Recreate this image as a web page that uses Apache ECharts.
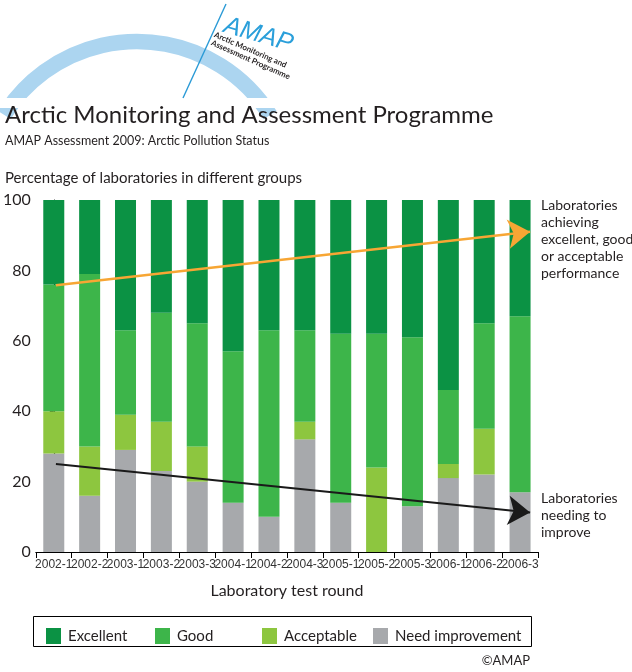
<!DOCTYPE html>
<html>
<head>
<meta charset="utf-8">
<script src="https://cdn.jsdelivr.net/npm/echarts@6/dist/echarts.min.js"></script>
<style>html,body{margin:0;padding:0;background:#fff;}#c{width:632px;height:672px;}</style>
</head>
<body>
<div id="c"></div>
<script>
var categories = ['2002-1','2002-2','2003-1','2003-2','2003-3','2004-1','2004-2','2004-3','2005-1','2005-2','2005-3','2006-1','2006-2','2006-3'];
var needImprovement = [28,16,29,23,20,14,10,32,14,0,13,21,22,17];
var acceptable      = [12,14,10,14,10,0,0,5,0,24,0,4,13,0];
var good            = [36,49,24,31,35,43,53,26,48,38,48,21,30,50];
var excellent       = [24,21,37,32,35,43,37,37,38,38,39,54,35,33];
var yTicks = [0,20,40,60,80,100];
// trend arrows: [category position, percentage]
var trendAchieving = [[0.06,75.8],[13.28,91.0]];
var trendNeeding   = [[0.06,25.0],[13.28,11.2]];

var FONT = 'Lato, "Open Sans", sans-serif';
var TXT = '#231f20';
var colors = {exc:'#0b9244', good:'#3db54a', acc:'#8dc63f', need:'#a7a9ac'};

var chart = echarts.init(document.getElementById('c'), null, {renderer:'canvas'});

function legendAt(name, left){
  return {data:[name], left:left, top:623, itemWidth:15, itemHeight:16, itemGap:0,
    selectedMode:false, icon:'rect',
    textStyle:{fontFamily:FONT, fontSize:15, color:TXT, padding:[0,0,0,2]}};
}

var option = {
  animation:false,
  textStyle:{fontFamily:FONT},
  grid:{left:34, right:94, top:200, bottom:120, containLabel:false},
  legend:[legendAt('Excellent',41), legendAt('Good',150), legendAt('Acceptable',257), legendAt('Need improvement',368)],
  xAxis:[{
    type:'category', data:categories, boundaryGap:true,
    axisLine:{lineStyle:{color:'#000', width:1.2}},
    axisTick:{show:true, length:6, lineStyle:{color:'#000'}},
    axisLabel:{interval:0, margin:7, fontSize:12, color:'#333', fontFamily:'"Liberation Sans Narrow", sans-serif'},
    name:'Laboratory test round', nameLocation:'middle', nameGap:31,
    nameTextStyle:{fontSize:16, color:TXT, fontFamily:FONT}
  },{
    type:'value', min:-0.5, max:13.5, show:false
  }],
  yAxis:{
    type:'value', min:0, max:100, interval:20,
    axisLine:{show:true, lineStyle:{color:'#000', width:1.2}},
    axisTick:{show:true, length:4, lineStyle:{color:'#000'}},
    splitLine:{show:false},
    axisLabel:{fontSize:16, color:TXT, margin:5, fontFamily:FONT,
      formatter:function(v){return yTicks.indexOf(v)>=0 ? String(v) : '';}}
  },
  series:[
    {name:'Need improvement', type:'bar', stack:'t', data:needImprovement, barWidth:21, itemStyle:{color:colors.need}},
    {name:'Acceptable', type:'bar', stack:'t', data:acceptable, barWidth:21, itemStyle:{color:colors.acc}},
    {name:'Good', type:'bar', stack:'t', data:good, barWidth:21, itemStyle:{color:colors.good}},
    {name:'Excellent', type:'bar', stack:'t', data:excellent, barWidth:21, itemStyle:{color:colors.exc}},
    {type:'lines', coordinateSystem:'cartesian2d', xAxisIndex:1, yAxisIndex:0, z:10,
      symbol:['none','arrow'], symbolSize:[14,22],
      lineStyle:{color:'#f7a634', width:2.5, opacity:1, curveness:0},
      data:[{coords:trendAchieving}]},
    {type:'lines', coordinateSystem:'cartesian2d', xAxisIndex:1, yAxisIndex:0, z:10,
      symbol:['none','arrow'], symbolSize:[14,22],
      lineStyle:{color:'#1a1a1a', width:2, opacity:1, curveness:0},
      data:[{coords:trendNeeding}]}
  ],
  graphic:[
    {type:'arc', shape:{cx:137, cy:198.5, r:157, startAngle:-2.58, endAngle:-0.56, clockwise:true},
      style:{stroke:'#acd5f0', lineWidth:15.5, fill:null}, z:1},
    {type:'rect', shape:{x:0, y:98, width:320, height:10}, style:{fill:'#fff'}, z:2},
    {type:'line', shape:{x1:183, y1:98, x2:226, y2:4}, style:{stroke:'#2a9ad6', lineWidth:1.4}, z:3},
    {type:'text', x:221, y:37, rotation:-0.28, z:4,
      style:{text:'AMAP', fontSize:25, fontStyle:'italic', fontFamily:'"Liberation Sans Narrow", sans-serif', fill:'#2a9fda', textVerticalAlign:'bottom'}},
    {type:'text', x:213, y:38, rotation:-0.41, z:4,
      style:{text:'Arctic Monitoring and', fontSize:8, fontWeight:'bold', fontFamily:FONT, fill:TXT, textVerticalAlign:'bottom'}},
    {type:'text', x:210, y:46, rotation:-0.42, z:4,
      style:{text:'Assessment Programme', fontSize:8, fontWeight:'bold', fontFamily:FONT, fill:TXT, textVerticalAlign:'bottom'}},
    {type:'text', x:5, y:115, z:4, style:{text:'Arctic Monitoring and Assessment Programme', fontSize:24, fontFamily:FONT, fill:TXT, textVerticalAlign:'middle'}},
    {type:'text', x:5, y:141, style:{text:'AMAP Assessment 2009: Arctic Pollution Status', fontSize:12.5, fontFamily:FONT, fill:TXT, textVerticalAlign:'middle'}},
    {type:'text', x:5, y:178, style:{text:'Percentage of laboratories in different groups', fontSize:15, fontFamily:FONT, fill:TXT, textVerticalAlign:'middle'}},
    {type:'text', x:541, y:197, style:{text:'Laboratories\nachieving\nexcellent, good\nor acceptable\nperformance', fontSize:14, lineHeight:17, fontFamily:FONT, fill:TXT, textVerticalAlign:'top'}},
    {type:'text', x:541, y:490, style:{text:'Laboratories\nneeding to\nimprove', fontSize:14, lineHeight:17, fontFamily:FONT, fill:TXT, textVerticalAlign:'top'}},
    {type:'rect', shape:{x:33.5, y:616.5, width:498, height:30}, style:{stroke:'#000', lineWidth:1, fill:null}},
    {type:'text', x:530, y:661, style:{text:'©AMAP', fontSize:13, fontFamily:FONT, fill:TXT, textAlign:'right', textVerticalAlign:'middle'}}
  ]
};
chart.setOption(option);
</script>
</body>
</html>
